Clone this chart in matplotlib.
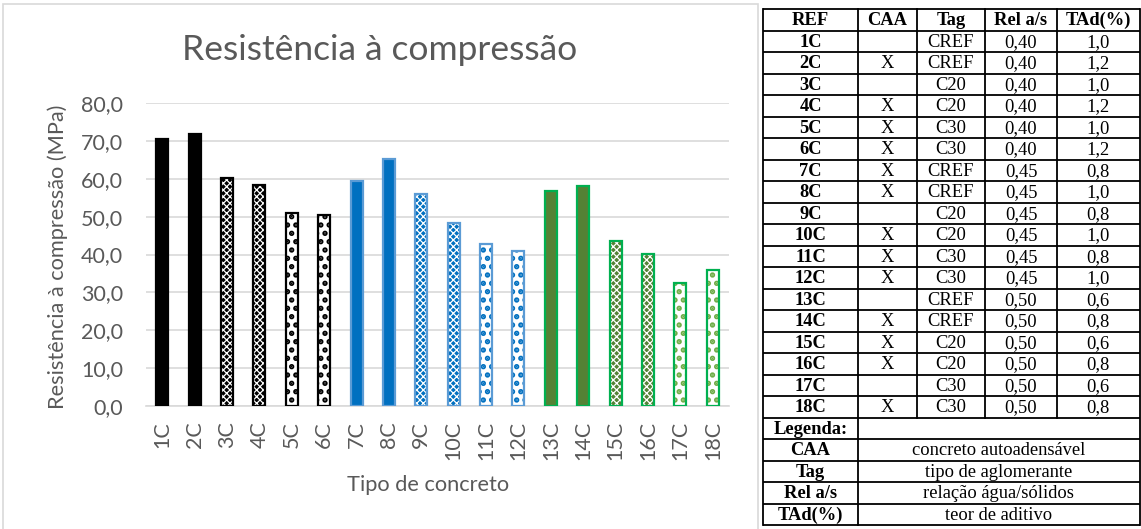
import numpy as np
import matplotlib.pyplot as plt
from matplotlib.patches import Rectangle

# concrete mixes and their compressive strength (MPa)
labels = ['1C', '2C', '3C', '4C', '5C', '6C', '7C', '8C', '9C', '10C',
          '11C', '12C', '13C', '14C', '15C', '16C', '17C', '18C']
strength = [70.6, 71.9, 60.3, 58.5, 51.0, 50.4, 59.4, 65.3, 55.9, 48.3,
            42.7, 41.0, 56.9, 58.2, 43.6, 40.2, 32.4, 35.9]

# mix table
header = ['REF', 'CAA', 'Tag', 'Rel a/s', 'TAd(%)']
caa = ['', 'X', '', 'X', 'X', 'X', 'X', 'X', '', 'X',
       'X', 'X', '', 'X', 'X', 'X', '', 'X']
tag = ['CREF', 'CREF', 'C20', 'C20', 'C30', 'C30', 'CREF', 'CREF', 'C20', 'C20',
       'C30', 'C30', 'CREF', 'CREF', 'C20', 'C20', 'C30', 'C30']
rel = ['0,40'] * 6 + ['0,45'] * 6 + ['0,50'] * 6
tad = ['1,0', '1,2', '1,0', '1,2', '1,0', '1,2', '0,8', '1,0', '0,8', '1,0',
       '0,8', '1,0', '0,6', '0,8', '0,6', '0,8', '0,6', '0,8']
legend_keys = ['CAA', 'Tag', 'Rel a/s', 'TAd(%)']
legend_desc = ['concreto autoadensável', 'tipo de aglomerante',
               'relação água/sólidos', 'teor de aditivo']

plt.rcParams['font.family'] = ['Lato', 'DejaVu Sans']

W, H = 1141, 529
fig = plt.figure(figsize=(W / 100, H / 100), dpi=100)
fig.patch.set_facecolor('white')

def fx(px):
    return px / W

def fy(py):
    return 1 - py / H

gray_txt = '#595959'

# chart frame
fig.add_artist(Rectangle((fx(3), fy(540)), fx(755), (540 - 4) / H,
                         transform=fig.transFigure, fill=False,
                         edgecolor='#D9D9D9', linewidth=1.2))

# (face, hatch, hatch colour, hatch width, outline) for each pair of bars
black, blue, green = '#000000', '#0070C0', '#548235'
pair_styles = [
    (black, None, black, 1.0, black),
    (black, 'xxxxx', 'white', 0.9, black),
    ('white', '..', black, 2.6, black),
    (blue, None, blue, 1.0, '#5B9BD5'),
    (blue, 'xxxxx', 'white', 0.9, '#5B9BD5'),
    ('white', '..', blue, 2.6, '#5B9BD5'),
    (green, None, green, 1.0, '#00B050'),
    (green, 'xxxxx', 'white', 0.9, '#00B050'),
    ('white', '..', '#70AD47', 2.6, '#00B050'),
]

ax = fig.add_axes([fx(146), fy(405.7), fx(729 - 146), (405.7 - 103.3) / H])
x = np.arange(len(labels))
for i, v in enumerate(strength):
    face, hatch, hcol, hlw, edge = pair_styles[i // 2]
    with plt.rc_context({'hatch.linewidth': hlw}):
        bars = ax.bar(x[i], v, width=0.37, color=face, hatch=hatch, edgecolor=hcol,
                      linewidth=0, zorder=3)
    for b in bars:
        if hasattr(b, 'set_hatch_linewidth'):
            b.set_hatch_linewidth(hlw)
    ax.bar(x[i], v, width=0.37, fill=False, edgecolor=edge, linewidth=1.6, zorder=4)

ax.set_xlim(-0.5, len(labels) - 0.5)
ax.set_ylim(0, 80)
ax.set_yticks(np.arange(0, 81, 10))
ax.set_yticklabels([f'{t:.1f}'.replace('.', ',') for t in np.arange(0, 81, 10)],
                   fontsize=15.5, color=gray_txt)
ax.set_xticks(x)
ax.set_xticklabels(labels, rotation=90, fontsize=15.5, color=gray_txt)
ax.tick_params(axis='x', length=0, pad=11)
ax.tick_params(axis='y', length=0, pad=16.5)
ax.grid(axis='y', color='#D9D9D9', linewidth=1.2, zorder=0)
for s in ['top', 'right', 'left']:
    ax.spines[s].set_visible(False)
ax.spines['bottom'].set_color('#D9D9D9')
ax.spines['bottom'].set_linewidth(1.2)
ax.set_axisbelow(True)

fig.text(fx(380), fy(50), 'Resistência à compressão', ha='center', va='center',
         fontsize=25.5, color=gray_txt)
fig.text(fx(58), fy(257), 'Resistência à compressão (MPa)', ha='center', va='center',
         rotation=90, fontsize=15.7, color=gray_txt)
fig.text(fx(428), fy(485), 'Tipo de concreto', ha='center', va='center',
         fontsize=15.7, color=gray_txt)

# table drawn in pixel coordinates
tx = fig.add_axes([fx(760), 0, fx(W - 760), 1])
tx.set_xlim(760, W)
tx.set_ylim(H, 0)
tx.axis('off')

cols = [763, 858, 917, 985, 1057, 1139.5]
top, rh = 9, 21.5
n_rows = 1 + len(labels) + 1 + len(legend_keys)
rows_y = [top + k * rh for k in range(n_rows + 1)]
lw = 1.3
for yy in rows_y:
    tx.plot([cols[0], cols[-1]], [yy, yy], color='black', lw=lw, solid_capstyle='butt')
for c in (cols[0], cols[1], cols[-1]):
    tx.plot([c, c], [rows_y[0], rows_y[-1]], color='black', lw=lw)
for c in cols[2:5]:
    tx.plot([c, c], [rows_y[0], rows_y[len(labels) + 1]], color='black', lw=lw)

serif = ['Liberation Serif', 'DejaVu Serif']
fs = 13.3
centers = [(cols[k] + cols[k + 1]) / 2 for k in range(5)]

def cell(col_x, row, text, bold=False):
    tx.text(col_x, rows_y[row] + rh / 2 + 1, text, ha='center', va='center',
            fontsize=fs, family=serif, fontweight='bold' if bold else 'normal')

for k, h in enumerate(header):
    cell(centers[k], 0, h, bold=True)
for r in range(len(labels)):
    cell(centers[0], r + 1, labels[r], bold=True)
    cell(centers[1], r + 1, caa[r])
    cell(centers[2], r + 1, tag[r])
    cell(centers[3], r + 1, rel[r])
    cell(centers[4], r + 1, tad[r])

leg_row = len(labels) + 1
cell(centers[0], leg_row, 'Legenda:', bold=True)
merged_x = (cols[1] + cols[-1]) / 2
for k, (key, desc) in enumerate(zip(legend_keys, legend_desc)):
    cell(centers[0], leg_row + 1 + k, key, bold=True)
    cell(merged_x, leg_row + 1 + k, desc)

fig.savefig('out.png', dpi=100)
